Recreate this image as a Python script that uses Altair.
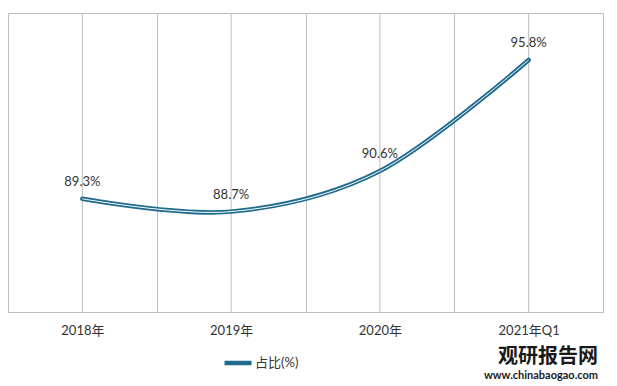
import altair as alt
import pandas as pd

categories = ["2018年", "2019年", "2020年", "2021年Q1"]
values = [89.3, 88.7, 90.6, 95.8]
labels = ["89.3%", "88.7%", "90.6%", "95.8%"]
series_name = "占比(%)"

df = pd.DataFrame({
    "cat": categories,
    "val": values,
    "label": labels,
    "series": [series_name] * len(categories),
})

FONT = "Lato, 'Noto Sans CJK SC', sans-serif"
GRID = "#BFBFBF"
LINE = "#1F6B8E"

x_scale = alt.Scale(type="band", paddingInner=0, paddingOuter=0)
x_axis = alt.Axis(title=None, tickBand="extent", grid=True, gridColor=GRID, gridWidth=1,
                  ticks=False, domain=True, domainColor=GRID, labelAngle=0,
                  labelFontSize=13, labelColor="#333333", labelPadding=12, labelFont=FONT)
x_enc = alt.X("cat:N", sort=categories, bandPosition=0.5, scale=x_scale, axis=x_axis)
x_plain = alt.X("cat:N", sort=categories, bandPosition=0.5, scale=x_scale)
y_enc = alt.Y("val:Q", scale=alt.Scale(domain=[84, 98], nice=False, zero=False), axis=None)

base = alt.Chart(df)

rules = base.mark_rule(color=GRID, strokeWidth=1).encode(x=x_enc)

outer = base.mark_line(interpolate="cardinal", strokeWidth=4.5, strokeCap="round").encode(
    x=x_plain, y=y_enc,
    color=alt.Color("series:N", scale=alt.Scale(range=[LINE]),
                    legend=alt.Legend(title=None, orient="none", legendX=214, legendY=334,
                                      symbolType="stroke", symbolStrokeWidth=4.5,
                                      symbolSize=729, labelFontSize=13, labelColor="#333333",
                                      labelFont=FONT, labelOffset=1)),
)
inner = base.mark_line(interpolate="cardinal", strokeWidth=1, color="white").encode(
    x=x_plain, y=y_enc)

text = base.mark_text(dy=-17, fontSize=13, color="#333333", font=FONT).encode(
    x=x_plain, y=y_enc, text="label:N")

chart = alt.layer(rules, outer, inner, text).properties(
    width=595, height=299,
    padding={"left": 0, "top": 4, "right": 6, "bottom": 0},
    title=alt.TitleParams(text="观研报告网", subtitle="www.chinabaogao.com", orient="bottom",
                          anchor="end", fontSize=20, fontWeight="bold", font="Noto Sans CJK SC",
                          color="#1a1a1a", subtitleFontSize=11, subtitleFontWeight="bold",
                          subtitleFont="Lato", subtitleColor="#1a1a1a", offset=-25,
                          subtitlePadding=3, dx=-5),
).configure_view(stroke=GRID)

chart.save("out.html", embed_options={"renderer": "svg", "actions": False})
